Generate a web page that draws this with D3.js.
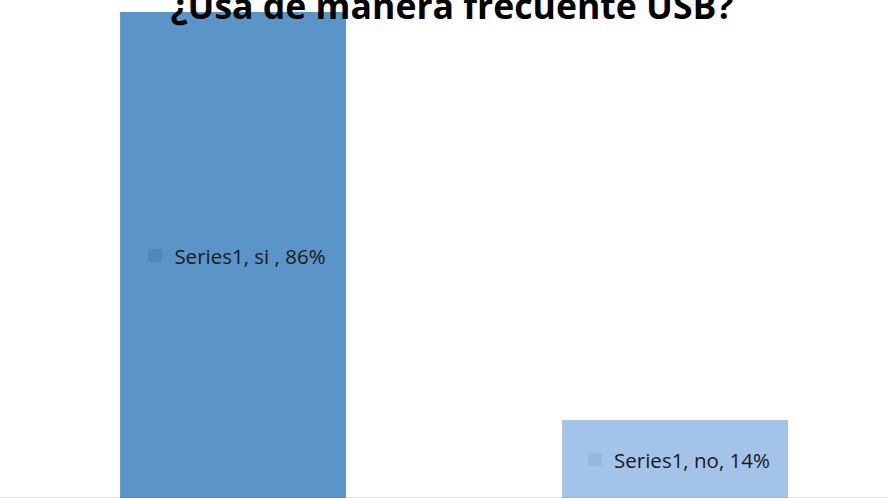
<!DOCTYPE html>
<html><head><meta charset="utf-8">
<script src="https://cdn.jsdelivr.net/npm/d3@7"></script>
<style>body{margin:0;background:#fff}svg{display:block}</style>
</head><body>
<svg id="c" width="887" height="498"></svg>
<script>
const title = "¿Usa de manera frecuente USB?";
const seriesName = "Series1";
const categories = ["si ", "no"];
const values = [86, 14];
const barColors = ["#5B94C7", "#A3C3E9"];
const keyColors = ["#4F87BC", "#95B7E0"];

const W = 887, H = 498;
const svg = d3.select("#c");
const xs = d3.scaleBand().domain(categories).range([12, 896])
  .paddingInner(0.489).paddingOuter(0.2445);
const y = d3.scaleLinear().domain([0, 100]).range([499.3, -67.4]);

svg.selectAll("rect.bar").data(categories).join("rect")
  .attr("class","bar")
  .attr("x", d => xs(d))
  .attr("width", xs.bandwidth())
  .attr("y", (d,i) => y(values[i]))
  .attr("height", (d,i) => y(0) - y(values[i]))
  .attr("fill", (d,i) => barColors[i]);

svg.append("line").attr("x1", 0).attr("x2", W).attr("y1", 497.5).attr("y2", 497.5)
  .attr("stroke", "#000").attr("stroke-opacity", 0.1);

// data labels
categories.forEach((c, i) => {
  const cx = xs(c) + xs.bandwidth()/2;
  const cy = (y(values[i]) + y(0)) / 2;
  const lg = svg.append("g").attr("transform", `translate(0,${cy})`);
  const t = lg.append("text").attr("x", 0).attr("y", 0)
    .attr("font-family", "'Open Sans', sans-serif").attr("font-size", 20.5)
    .attr("fill", "#1a1a1a").attr("dominant-baseline", "central")
    .text(`${seriesName}, ${c}, ${values[i]}%`);
  const tw = t.node().getComputedTextLength();
  const total = 14 + 12 + tw;
  const x0 = cx - total/2 + 4;
  lg.insert("rect", "text").attr("x", x0).attr("y", -6.5).attr("width", 14).attr("height", 13).attr("fill", keyColors[i]);
  t.attr("x", x0 + 26);
});

// title
const tt = svg.append("text").attr("x", 452).attr("y", 19).attr("text-anchor", "middle")
  .attr("font-family", "'Open Sans', sans-serif").attr("font-weight", "bold")
  .attr("font-size", 30).attr("fill", "#000").text(title);
const tw = tt.node().getComputedTextLength();
tt.attr("font-size", 30 * 563 / tw);
</script>
</body></html>
